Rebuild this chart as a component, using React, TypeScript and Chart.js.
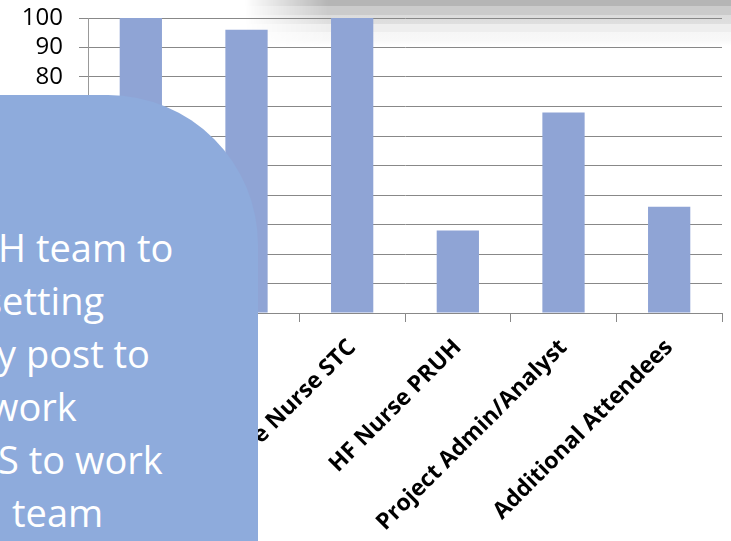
import React, { useEffect, useRef } from "react";
import { Chart, registerables } from "chart.js";

Chart.register(...registerables);

// ---- data ----
const categories = [
  "Consultant KCH",
  "HF Nurse KCH",
  "Palliative Care Nurse STC",
  "HF Nurse PRUH",
  "Project Admin/Analyst",
  "Additional Attendees",
];
const attendance = [100, 96, 100, 28, 68, 36];
const yMin = 0;
const yMax = 100;
const yStep = 10;
const overlayLines = ["H team to", "setting", "y post to", "work", "S to work", "team"];

// ---- styles (not data) ----
const overlayLineLeft = [-2, -16, -3, -11, -2, 12];
const overlayLineTop = [223, 276, 329, 382, 435, 488];

export default function App() {
  const canvasRef = useRef<HTMLCanvasElement | null>(null);

  useEffect(() => {
    const prevMargin = document.body.style.margin;
    document.body.style.margin = "0";
    const canvas = canvasRef.current;
    if (!canvas) return;
    const chart = new Chart(canvas, {
      type: "bar",
      data: {
        labels: categories,
        datasets: [
          {
            data: attendance,
            backgroundColor: "#8FA4D5",
            borderWidth: 0,
            categoryPercentage: 1,
            barPercentage: 0.4,
          },
        ],
      },
      options: {
        animation: false,
        responsive: false,
        maintainAspectRatio: false,
        layout: { padding: { top: 0, right: 9, bottom: 0, left: 0 } },
        plugins: { legend: { display: false }, tooltip: { enabled: false } },
        scales: {
          x: {
            afterFit: (scale: any) => {
              scale.height = 228;
              scale.paddingLeft = 0;
              scale.paddingRight = 0;
            },
            grid: {
              offset: true,
              drawOnChartArea: false,
              drawTicks: true,
              tickLength: 9,
              color: "#888888",
              lineWidth: 1,
            },
            border: { color: "#888888", width: 1 },
            ticks: {
              minRotation: 45,
              maxRotation: 45,
              autoSkip: false,
              color: "#000000",
              padding: 12,
              font: { family: "'Open Sans', sans-serif", size: 23, weight: "bold" },
            },
          },
          y: {
            min: yMin,
            max: yMax,
            afterFit: (scale: any) => {
              scale.width = 88;
              scale.paddingTop = 18;
              scale.paddingBottom = 0;
            },
            grid: {
              color: "#888888",
              lineWidth: 1,
              drawTicks: true,
              tickLength: 9,
            },
            border: { color: "#999999", width: 1 },
            ticks: {
              stepSize: yStep,
              autoSkip: false,
              color: "#000000",
              padding: 16,
              font: { family: "'Open Sans', sans-serif", size: 24 },
            },
          },
        },
      },
    });
    return () => {
      chart.destroy();
      document.body.style.margin = prevMargin;
    };
  }, []);

  const mask = "linear-gradient(to right, transparent 245px, #000 328px)";

  return (
    <div
      style={{
        position: "fixed",
        left: 0,
        top: 0,
        width: 731,
        height: 541,
        overflow: "hidden",
        background: "#ffffff",
      }}
    >
      <div
        style={{
          position: "absolute",
          left: 0,
          top: 0,
          width: 731,
          height: 46,
          background:
            "linear-gradient(to bottom, #b5b5b5 0px, #b5b5b5 6px, #cbcbcb 6px, #cbcbcb 15px, #dcdcdc 15px, #dfdfdf 24px, #eeeeee 24px, #eeeeee 32px, #f6f6f6 32px, #f8f8f8 40px, #ffffff 46px)",
          WebkitMaskImage: mask,
          maskImage: mask,
        }}
      />
      <canvas
        ref={canvasRef}
        width={731}
        height={541}
        style={{ position: "absolute", left: 0, top: 0, width: 731, height: 541 }}
      />
      <div
        style={{
          position: "absolute",
          left: -200,
          top: 95,
          width: 458,
          height: 500,
          background: "#8EABDC",
          borderTopRightRadius: 150,
        }}
      />
      {overlayLines.map((t, i) => (
        <div
          key={i}
          style={{
            position: "absolute",
            left: overlayLineLeft[i],
            top: overlayLineTop[i],
            color: "#ffffff",
            fontFamily: "'Open Sans', sans-serif",
            fontSize: 38,
            lineHeight: "48px",
            whiteSpace: "nowrap",
          }}
        >
          {t}
        </div>
      ))}
    </div>
  );
}
